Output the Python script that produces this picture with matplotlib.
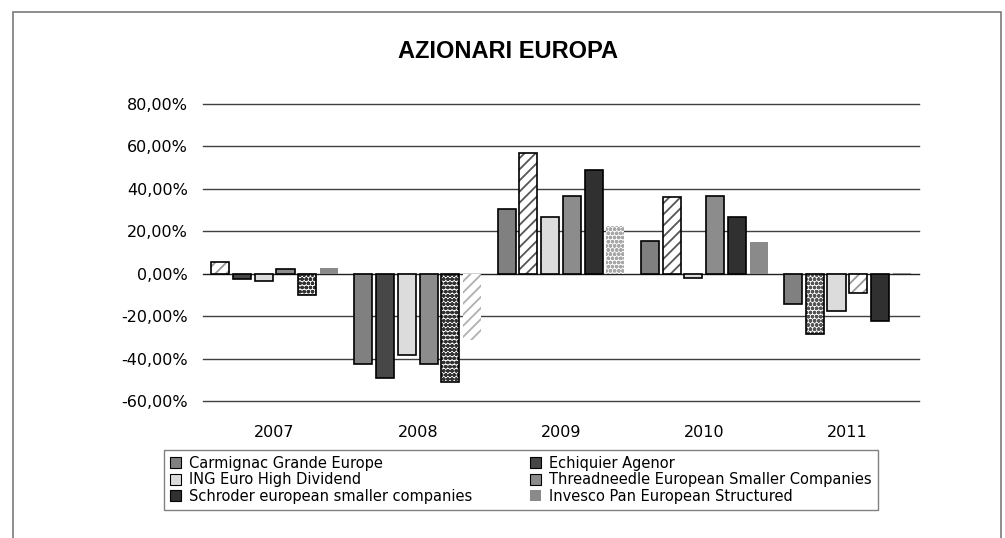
import matplotlib
matplotlib.use("Agg")
import matplotlib.pyplot as plt
import numpy as np
from matplotlib.patches import Rectangle, Patch
from matplotlib.ticker import FuncFormatter

plt.rcParams['font.family'] = ['DejaVu Sans']
plt.rcParams['hatch.linewidth'] = 1.3

years = ['2007', '2008', '2009', '2010', '2011']
series = ['Carmignac Grande Europe', 'Echiquier Agenor', 'ING Euro High Dividend',
          'Threadneedle European Smaller Companies', 'Schroder european smaller companies',
          'Invesco Pan European Structured']
carmignac = [5.4, -42.5, 30.3, 15.6, -14.5]
echiquier = [-2.5, -49.1, 56.9, 36.2, -28.4]
ing = [-3.3, -38.2, 26.5, -2.0, -17.7]
threadneedle = [2.4, -42.5, 36.8, 36.8, -9.2]
schroder = [-9.8, -51.0, 49.0, 26.5, -22.1]
invesco = [2.8, -31.3, 22.4, 14.8, 0.5]
values = [carmignac, echiquier, ing, threadneedle, schroder, invesco]

colors = ['#808080', '#474747', '#dcdcdc', '#8c8c8c', '#303030', '#8a8a8a']
edged = [True, True, True, True, True, False]
# per-point pattern overrides: (series, year) -> (hatch, hatch colour)
patterns = {
    (0, 0): ('///', '#9a9a9a'),
    (4, 0): ('oooo', '#333333'),
    (4, 1): ('oooo', '#333333'),
    (5, 1): ('///', '#b0b0b0'),
    (1, 2): ('///', '#555555'),
    (5, 2): ('oooo', '#a8a8a8'),
    (1, 3): ('///', '#555555'),
    (1, 4): ('oooo', '#555555'),
    (3, 4): ('///', '#999999'),
}

fig = plt.figure(figsize=(10.05, 5.38), dpi=100)
ax = fig.add_axes([203/1005, 1-401/538, (919-203)/1005, (401-104)/538])

x = np.arange(len(years))
pitch = 0.152
width = 0.126
for k, vals in enumerate(values):
    xs = x + (k - 2.5) * pitch
    for j, (xx, v) in enumerate(zip(xs, vals)):
        ec = 'black' if edged[k] else 'none'
        lw = 1.2 if edged[k] else 0
        if (k, j) in patterns:
            h, hc = patterns[(k, j)]
            ax.bar(xx, v, width, color='white', hatch=h, edgecolor=hc, linewidth=0, zorder=3)
            ax.bar(xx, v, width, fill=False, edgecolor=ec, linewidth=lw, zorder=4)
        else:
            ax.bar(xx, v, width, color=colors[k], edgecolor=ec, linewidth=lw, zorder=3)

ax.set_ylim(-60, 80)
ax.set_xlim(-0.5, len(years) - 0.5)
yt = np.arange(-60, 81, 20)
ax.set_yticks(yt)
ax.yaxis.set_major_formatter(FuncFormatter(lambda v, p: f"{v:.2f}%".replace('.', ',')))
ax.set_xticks(x)
ax.set_xticklabels(years)
ax.tick_params(axis='y', length=0, pad=10.8, labelsize=11.5)
ax.tick_params(axis='x', length=0, pad=17, labelsize=11.5)
for t in yt:
    ax.axhline(t, color='#202020' if t == 0 else '#404040', linewidth=1,
               zorder=2 if t == 0 else 0, clip_on=False)
for s in ax.spines.values():
    s.set_visible(False)

fig.text(508/1005, 1-52/538, 'AZIONARI EUROPA', fontsize=17, fontweight='bold',
         family='Liberation Sans', ha='center', va='center')

order = [0, 2, 4, 1, 3, 5]
handles = [Patch(facecolor=colors[i], edgecolor='black' if edged[i] else 'none', linewidth=0.8)
           for i in order]
labels = [series[i] for i in order]
leg = fig.legend(handles, labels, ncol=2, loc='upper left',
                 bbox_to_anchor=(164/1005, 1-450/538),
                 bbox_transform=fig.transFigure, fontsize=10.5,
                 frameon=True, fancybox=False, edgecolor='#606060',
                 handlelength=0.75, handleheight=0.75, handletextpad=0.55,
                 labelspacing=0.1, borderpad=0.4, borderaxespad=0, columnspacing=4.0)
leg.get_frame().set_linewidth(1)

fig.add_artist(Rectangle((13/1005, -0.1), (1001-13)/1005, 1-12/538 + 0.1,
                         transform=fig.transFigure, fill=False,
                         edgecolor='#7a7a7a', linewidth=1.2))

fig.savefig('out.png', dpi=100, facecolor='white')
